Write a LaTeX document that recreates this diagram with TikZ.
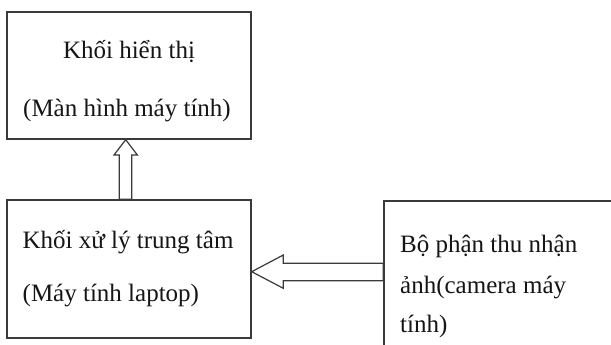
\documentclass[tikz,border=0pt]{standalone}
\usepackage{fontspec}
\setmainfont{Liberation Serif}
\usetikzlibrary{calc}
\definecolor{edge}{HTML}{3A3A3A}
\definecolor{ink}{HTML}{151515}
\begin{document}
\begin{tikzpicture}[x=1pt,y=-1pt,
  box/.style={draw=edge,line width=1.4pt,minimum width=#1,inner sep=0pt},
  txt/.style={inner sep=0pt,text=ink,font=\fontsize{25}{30}\selectfont},
  hollow/.style={draw=edge,line width=1.2pt,line join=miter,fill=white}]
\clip (0,0) rectangle (611,345);
\fill[white] (0,0) rectangle (611,345);
% boxes
\node[box=244pt,minimum height=127pt] (disp) at (129,75.5) {};
\node[box=244pt,minimum height=138pt] (cpu) at (129,269) {};
\node[box=266pt,minimum height=169pt] (cam) at (517,285.5) {};
% texts
\node[txt,anchor=base] (t1) at (129,59) {Khối hiển thị};
\node[txt,anchor=base] (t2) at (127,117) {(Màn hình máy tính)};
\node[txt,anchor=base west] (t3) at (22.5,248) {Khối xử lý trung tâm};
\node[txt,anchor=base west] (t4) at (22.5,301) {(Máy tính laptop)};
\node[txt,anchor=base west] (t5) at (400,252) {Bộ phận thu nhận};
\node[txt,anchor=base west] (t6) at (400,293) {ảnh(camera máy};
\node[txt,anchor=base west] (t7) at (400,332) {tính)};
% hollow arrows
\draw[hollow] (disp.south -| 125.7,0) -- (114,155) -- (119.3,155)
  -- (119.3,0 |- cpu.north) -- (131.7,0 |- cpu.north) -- (131.7,155)
  -- (137.4,155) -- cycle;
\draw[hollow] (cpu.east |- 0,271.7) -- (283.3,255) -- (283.3,263.3)
  -- (cam.west |- 0,263.3) -- (cam.west |- 0,280.7) -- (283.3,280.7)
  -- (283.3,288.3) -- cycle;
\end{tikzpicture}
\end{document}
